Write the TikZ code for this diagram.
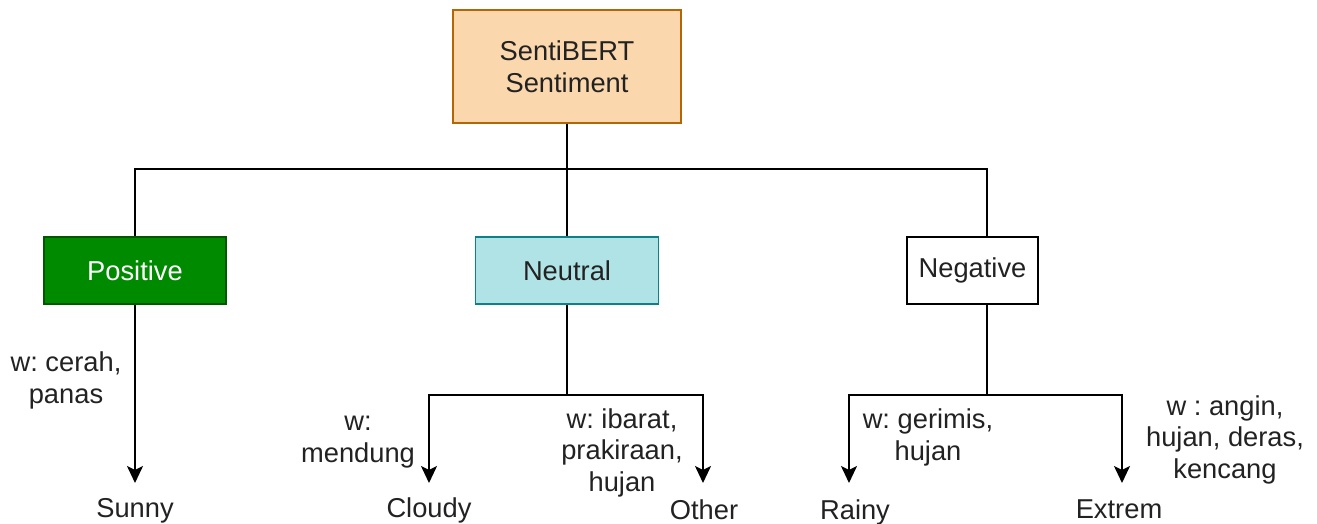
\documentclass[tikz,border=0pt]{standalone}
\usepackage{fontspec}
\setmainfont{Liberation Sans}
\usetikzlibrary{arrows.meta}
\frenchspacing
\definecolor{peach}{HTML}{FAD7AC}
\definecolor{peachedge}{HTML}{B46504}
\definecolor{posfill}{HTML}{008A00}
\definecolor{posedge}{HTML}{005700}
\definecolor{neufill}{HTML}{B0E3E6}
\definecolor{neuedge}{HTML}{0E8088}
\definecolor{ink}{HTML}{222222}
\tikzset{
  txt/.style={font=\fontsize{27.3}{31.5}\selectfont, text=ink},
  catbox/.style={txt, draw, line width=1.8pt, minimum height=67pt, inner sep=0pt},
  leaf/.style={txt, anchor=north, inner xsep=0pt, inner ysep=0pt, text height=34pt, text depth=6pt},
  wlabel/.style={txt, align=center, anchor=base, inner sep=0pt},
  link/.style={line width=2pt},
  arr/.style={link, -{Stealth[length=17pt,width=16pt,inset=4pt]}}
}
\begin{document}
\begin{tikzpicture}[x=1pt,y=-1pt]
\useasboundingbox (0,0) rectangle (1317,524);

% root and the three sentiment classes
\node[catbox, fill=peach, draw=peachedge, minimum width=228pt, minimum height=113pt, align=center]
  (root) at (567,66.5) {SentiBERT\\Sentiment};
\node[catbox, fill=posfill, draw=posedge, minimum width=182pt, text=white] (pos) at (135,270.5) {Positive};
\node[catbox, fill=neufill, draw=neuedge, minimum width=183pt] (neu) at (567,270.5) {Neutral};
\node[catbox, fill=white, draw=black, minimum width=131pt] (neg) at (972.5,270.5) {Negative};

% weather classes
\node[leaf] (sunny)  at (135,483) {Sunny};
\node[leaf] (cloudy) at (429,483) {Cloudy};
\node[leaf, text height=36pt] (other) at (704,483) {Other};
\node[leaf, text height=36pt] (rainy)  at (855,483) {Rainy};
\node[leaf, text height=35pt] (extrem) at (1119,483) {Extrem};

% branch points
\coordinate (rootbar) at (567,169);
\coordinate (negin) at ([xshift=14.5pt]neg.north);
\coordinate (negout) at ([xshift=14.5pt]neg.south);
\coordinate (neubar) at (567,395);
\coordinate (negbar) at (987,395);

% root to classes
\draw[link] (root.south) -- (rootbar);
\draw[link] (rootbar) -| (pos.north);
\draw[link] (rootbar) -- (neu.north);
\draw[link] (rootbar) -| (negin);

% classes to weather
\draw[arr] (pos.south) -- (sunny.north);
\draw[link] (neu.south) -- (neubar);
\draw[arr] (neubar) -| (cloudy.north);
\draw[arr] (neubar) -| ([xshift=-1pt]other.north);
\draw[link] (negout) -- (negbar);
\draw[arr] (negbar) -| ([xshift=-6pt]rainy.north);
\draw[arr] (negbar) -| ([xshift=3pt]extrem.north);

% keyword labels (placed by the baseline of their last line)
\node[wlabel] (wsunny)  at (66,403)   {w: cerah,\\panas};
\node[wlabel] (wcloudy) at (358,462)  {w:\\mendung};
\node[wlabel] (wother)  at (622,491)  {w: ibarat,\\prakiraan,\\hujan};
\node[wlabel] (wrainy)  at (928,460)  {w: gerimis,\\hujan};
\node[wlabel] (wextrem) at (1225,478) {w : angin,\\hujan, deras,\\kencang};
\end{tikzpicture}
\end{document}
